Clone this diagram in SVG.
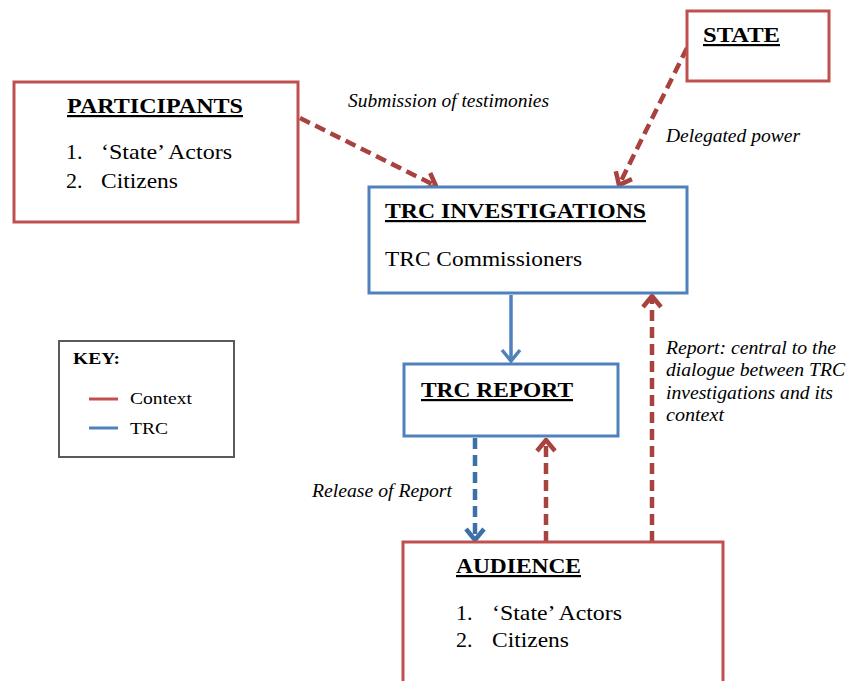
<svg xmlns="http://www.w3.org/2000/svg" width="849" height="681" viewBox="0 0 849 681">
<style>
  .bg{fill:#ffffff}
  .ctx{fill:#ffffff;stroke:#c0504d;stroke-width:3}
  .trc{fill:#ffffff;stroke:#4f81bd;stroke-width:3}
  .key{fill:#ffffff;stroke:#5a5a5a;stroke-width:2}
  .title{font-family:"Liberation Serif","Times New Roman",serif;font-weight:bold;font-size:22px;fill:#000;text-decoration:underline}
  .body{font-family:"Liberation Serif","Times New Roman",serif;font-size:22px;fill:#000}
  .lbl{font-family:"Liberation Serif","Times New Roman",serif;font-style:italic;font-size:18px;fill:#000}
  .keyt{font-family:"Liberation Serif","Times New Roman",serif;font-size:17px;fill:#000}
  .keyb{font-family:"Liberation Serif","Times New Roman",serif;font-size:17px;font-weight:bold;fill:#000}
  .rd{fill:none;stroke:#a8423f;stroke-width:4.5;stroke-dasharray:11 6}
  .bd{fill:none;stroke:#3d6fa8;stroke-width:4.5;stroke-dasharray:11 6}
  .bs{fill:none;stroke:#4f81bd;stroke-width:3.5}
</style>
<defs>
  <marker id="mr" markerUnits="userSpaceOnUse" viewBox="-14 -11 16 22" refX="0" refY="0" markerWidth="16" markerHeight="22" orient="auto">
    <path d="M-11,-9 L0,0 L-11,9" fill="none" stroke="#a8423f" stroke-width="4.5" stroke-linejoin="miter"/>
  </marker>
  <marker id="mb" markerUnits="userSpaceOnUse" viewBox="-14 -11 16 22" refX="0" refY="0" markerWidth="16" markerHeight="22" orient="auto">
    <path d="M-11,-9 L0,0 L-11,9" fill="none" stroke="#3d6fa8" stroke-width="4.5"/>
  </marker>
  <marker id="mbs" markerUnits="userSpaceOnUse" viewBox="-14 -11 16 22" refX="0" refY="0" markerWidth="16" markerHeight="22" orient="auto">
    <path d="M-11,-9 L0,0 L-11,9" fill="none" stroke="#4f81bd" stroke-width="3.5"/>
  </marker>
</defs>
<rect class="bg" x="0" y="0" width="849" height="681"/>

<g id="connectors">
  <path class="rd" d="M300,118 L436,186" marker-end="url(#mr)"/>
  <path class="rd" d="M687,48 L619,185" marker-end="url(#mr)"/>
  <path class="bs" d="M511,295 L511,361" marker-end="url(#mbs)"/>
  <path class="bd" d="M475,438 L475,540" marker-end="url(#mb)"/>
  <path class="rd" d="M546,542 L546,440" marker-end="url(#mr)"/>
  <path class="rd" d="M652,542 L652,296" marker-end="url(#mr)"/>
  <text class="lbl" x="348" y="107" textLength="201" lengthAdjust="spacingAndGlyphs">Submission of testimonies</text>
  <text class="lbl" x="666" y="142" textLength="134" lengthAdjust="spacingAndGlyphs">Delegated power</text>
  <text class="lbl" x="312" y="497" textLength="140" lengthAdjust="spacingAndGlyphs">Release of Report</text>
  <text class="lbl" x="666" y="354" textLength="170" lengthAdjust="spacingAndGlyphs">Report: central to the</text>
  <text class="lbl" x="666" y="376" textLength="179" lengthAdjust="spacingAndGlyphs">dialogue between TRC</text>
  <text class="lbl" x="666" y="399" textLength="167" lengthAdjust="spacingAndGlyphs">investigations and its</text>
  <text class="lbl" x="666" y="421" textLength="58" lengthAdjust="spacingAndGlyphs">context</text>
</g>

<g id="participants">
  <rect class="ctx" x="14" y="82" width="284" height="140"/>
  <text class="title" x="67" y="113" textLength="176" lengthAdjust="spacingAndGlyphs">PARTICIPANTS</text>
  <text class="body" x="66" y="159">1.</text>
  <text class="body" x="101" y="159" textLength="131" lengthAdjust="spacingAndGlyphs">‘State’ Actors</text>
  <text class="body" x="66" y="188">2.</text>
  <text class="body" x="101" y="188" textLength="77" lengthAdjust="spacingAndGlyphs">Citizens</text>
</g>

<g id="state">
  <rect class="ctx" x="687" y="11" width="142" height="70"/>
  <text class="title" x="703" y="42" textLength="77" lengthAdjust="spacingAndGlyphs">STATE</text>
</g>

<g id="trc-investigations">
  <rect class="trc" x="369" y="187" width="318" height="106"/>
  <text class="title" x="385" y="218" textLength="261" lengthAdjust="spacingAndGlyphs">TRC INVESTIGATIONS</text>
  <text class="body" x="385" y="266" textLength="197" lengthAdjust="spacingAndGlyphs">TRC Commissioners</text>
</g>

<g id="trc-report">
  <rect class="trc" x="404" y="364" width="214" height="72"/>
  <text class="title" x="421" y="397" textLength="152" lengthAdjust="spacingAndGlyphs">TRC REPORT</text>
</g>

<g id="audience">
  <rect class="ctx" x="403" y="542" width="320" height="150"/>
  <text class="title" x="456" y="573" textLength="125" lengthAdjust="spacingAndGlyphs">AUDIENCE</text>
  <text class="body" x="456" y="620">1.</text>
  <text class="body" x="492" y="620" textLength="130" lengthAdjust="spacingAndGlyphs">‘State’ Actors</text>
  <text class="body" x="456" y="647">2.</text>
  <text class="body" x="492" y="647" textLength="77" lengthAdjust="spacingAndGlyphs">Citizens</text>
</g>

<g id="key">
  <rect class="key" x="59" y="341" width="175" height="116"/>
  <text class="keyb" x="73" y="364" textLength="47" lengthAdjust="spacingAndGlyphs">KEY:</text>
  <line x1="89" y1="399" x2="118" y2="399" stroke="#c0504d" stroke-width="3"/>
  <text class="keyt" x="130" y="404" textLength="62" lengthAdjust="spacingAndGlyphs">Context</text>
  <line x1="89" y1="428" x2="118" y2="428" stroke="#4f81bd" stroke-width="3"/>
  <text class="keyt" x="130" y="434" textLength="38" lengthAdjust="spacingAndGlyphs">TRC</text>
</g>
</svg>
